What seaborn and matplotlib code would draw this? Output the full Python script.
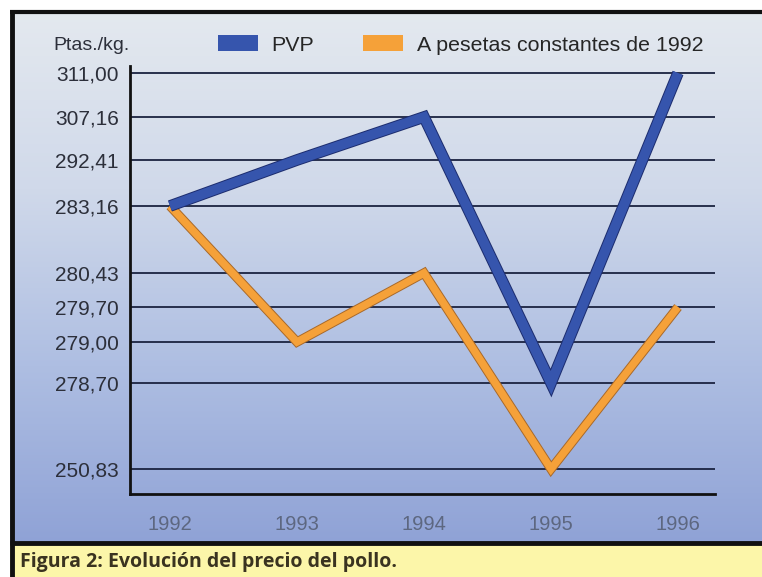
import numpy as np
import pandas as pd
import seaborn as sns
import matplotlib
matplotlib.use("Agg")
import matplotlib.pyplot as plt
from matplotlib import patheffects as pe
from matplotlib.patches import Rectangle, Patch
from matplotlib.colors import LinearSegmentedColormap

# ---------------- data ----------------
years = [1992, 1993, 1994, 1995, 1996]
pvp = [283.16, 292.41, 307.16, 278.70, 311.00]
constantes = [283.16, 279.00, 280.43, 250.83, 279.70]
series_names = ["PVP", "A pesetas constantes de 1992"]
ytick_values = [250.83, 278.70, 279.00, 279.70, 280.43, 283.16, 292.41, 307.16, 311.00]
ytick_labels = ["250,83", "278,70", "279,00", "279,70", "280,43", "283,16", "292,41", "307,16", "311,00"]
xtick_labels = ["1992", "1993", "1994", "1995", "1996"]

# ---------------- layout (non-linear axis: vertical position of each tick, px) ----------------
tick_pos = [25, 111, 152, 187, 221, 288, 334, 377, 421]

sns.set_style("white")
plt.rcParams["font.family"] = ["Liberation Sans", "DejaVu Sans"]

tv = np.array(ytick_values, float)
tp = np.array(tick_pos, float)


def _pw(x, xs, ys):
    x = np.asarray(x, float)
    out = np.interp(x, xs, ys)
    lo = (ys[1] - ys[0]) / (xs[1] - xs[0])
    hi = (ys[-1] - ys[-2]) / (xs[-1] - xs[-2])
    out = np.where(x < xs[0], ys[0] + (x - xs[0]) * lo, out)
    out = np.where(x > xs[-1], ys[-1] + (x - xs[-1]) * hi, out)
    return out


def fwd(v):
    return _pw(v, tv, tp)


def inv(p):
    return _pw(p, tp, tv)


W, H = 762, 577
fig = plt.figure(figsize=(W / 100, H / 100), dpi=100)
fig.patch.set_facecolor("white")

# background panel
bg = fig.add_axes([0, 0, 1, 1], zorder=-5)
bg.set_xlim(0, W)
bg.set_ylim(H, 0)
bg.axis("off")
cmap = LinearSegmentedColormap.from_list("bgc", ["#e4e9ef", "#d0d9ea", "#aebee2", "#8fa2d6"])
grad = np.linspace(0, 1, 256).reshape(-1, 1)
bg.imshow(grad, cmap=cmap, extent=[10, W, 545, 10], aspect="auto", zorder=0)
bg.add_patch(Rectangle((10, 545), W - 10, 32, facecolor="#fcf6a9", edgecolor="none", zorder=1))
bg.plot([10, W], [11.5, 11.5], color="#111111", lw=3, zorder=2, solid_capstyle="butt")
bg.plot([11.5, 11.5], [10, 577], color="#111111", lw=3.5, zorder=2, solid_capstyle="butt")
bg.plot([10, W], [543, 543], color="#111111", lw=3.5, zorder=2, solid_capstyle="butt")
bg.text(20, 562, "Figura 2: Evolución del precio del pollo.", fontsize=14, fontweight="bold",
        family=["Open Sans", "DejaVu Sans"], color="#3a3320", va="center", ha="left")

# main axes
ax = fig.add_axes([130 / W, (H - 494) / H, (715 - 130) / W, 428 / H])
ax.set_facecolor("none")
ax.set_yscale("function", functions=(fwd, inv))
ax.set_ylim(float(inv(0)), float(inv(428)))
ax.set_xlim(1992 - 40 / 127, 1996 + 37 / 127)

ax.set_yticks(ytick_values)
ax.set_yticklabels(ytick_labels)
ax.set_xticks(years)
ax.set_xticklabels(xtick_labels)
ax.yaxis.grid(True, color="#1b2340", lw=1.3)
ax.xaxis.grid(False)
ax.set_axisbelow(True)
for s in ["top", "right"]:
    ax.spines[s].set_visible(False)
for s in ["left", "bottom"]:
    ax.spines[s].set_color("#111111")
    ax.spines[s].set_linewidth(2)
ax.tick_params(axis="y", length=0, pad=8, labelsize=15)
ax.tick_params(axis="x", length=0, pad=15, labelsize=14.5, labelcolor="#5d6780")
for lab in ax.get_yticklabels():
    lab.set_color("#2c2f3a")

df = pd.DataFrame({"year": years * 2,
                   "value": pvp + constantes,
                   "serie": [series_names[0]] * 5 + [series_names[1]] * 5})
colors = {series_names[0]: "#3655ad", series_names[1]: "#f5a139"}
edges = {series_names[0]: "#1c2c6e", series_names[1]: "#a8692a"}
widths = {series_names[0]: 7.0, series_names[1]: 5.4}
for name in [series_names[1], series_names[0]]:
    sub = df[df["serie"] == name]
    sns.lineplot(data=sub, x="year", y="value", ax=ax, color=colors[name], lw=widths[name],
                 legend=False, solid_joinstyle="miter", solid_capstyle="butt",
                 path_effects=[pe.Stroke(linewidth=widths[name] + 1.4, foreground=edges[name]), pe.Normal()])
ax.set_xlabel("")
ax.set_ylabel("")

handles = [Patch(facecolor=colors[n], edgecolor="none") for n in series_names]
fig.legend(handles, series_names, loc="center left", bbox_to_anchor=(218 / W, 1 - 45 / H),
           ncol=2, frameon=False, fontsize=15.4, handlelength=1.85, handleheight=0.75,
           handletextpad=0.65, columnspacing=2.3, borderpad=0, borderaxespad=0)
fig.text(53 / W, 1 - 45 / H, "Ptas./kg.", fontsize=14, color="#2c2f3a", va="center", ha="left")

fig.savefig("out.png", dpi=100)
